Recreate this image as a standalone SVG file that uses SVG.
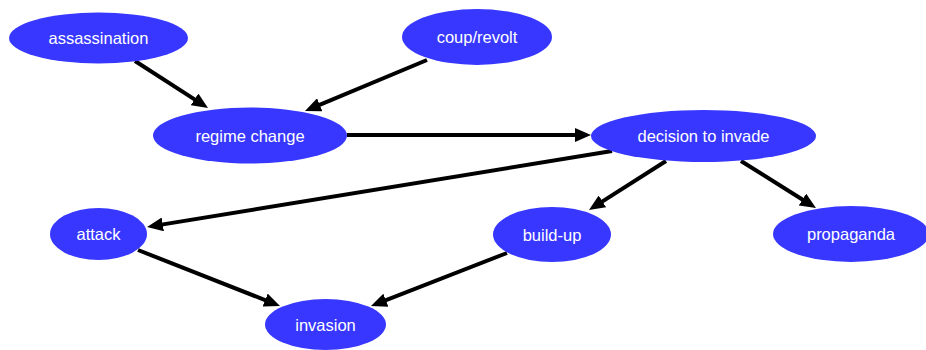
<svg xmlns="http://www.w3.org/2000/svg" width="926" height="350" viewBox="0 0 926 350">
<style>
.n ellipse{fill:#3737ff;stroke:none}
.n text{fill:#ffffff;font-family:"Liberation Sans",Arial,sans-serif;font-size:16.5px;text-anchor:middle;dominant-baseline:central}
.e line{stroke:#000;stroke-width:4;marker-end:url(#ah)}
</style>
<defs>
<marker id="ah" viewBox="0 0 16 14" markerWidth="16" markerHeight="14" markerUnits="userSpaceOnUse" refX="6" refY="7" orient="auto">
<path d="M0,0 L16,7 L0,14 z" fill="#000"/>
</marker>
</defs>
<rect width="926" height="350" fill="#fff"/>
<g id="edges" class="e">
<line x1="135" y1="61" x2="199.6" y2="102.6"/>
<line x1="427" y1="60" x2="314.2" y2="107.1"/>
<line x1="347" y1="135" x2="581" y2="135"/>
<line x1="612" y1="151" x2="156.9" y2="225.4"/>
<line x1="666" y1="161" x2="597.4" y2="204.6"/>
<line x1="741" y1="161" x2="807.5" y2="202.7"/>
<line x1="138" y1="250" x2="270.7" y2="302.3"/>
<line x1="507" y1="253" x2="380.3" y2="302.4"/>
</g>
<g id="assassination" class="n"><ellipse cx="98.5" cy="38" rx="89.5" ry="25.5"/><text x="98.5" y="38">assassination</text></g>
<g id="coup_revolt" class="n"><ellipse cx="477" cy="37" rx="75" ry="28"/><text x="477" y="37">coup/revolt</text></g>
<g id="regime_change" class="n"><ellipse cx="250" cy="135.5" rx="97" ry="28"/><text x="250" y="135.5">regime change</text></g>
<g id="decision_to_invade" class="n"><ellipse cx="703.5" cy="136" rx="112.5" ry="26"/><text x="703.5" y="136">decision to invade</text></g>
<g id="attack" class="n"><ellipse cx="98.5" cy="234" rx="48.5" ry="26"/><text x="98.5" y="234">attack</text></g>
<g id="build_up" class="n"><ellipse cx="552" cy="234.5" rx="59" ry="27.5"/><text x="552" y="234.5">build-up</text></g>
<g id="propaganda" class="n"><ellipse cx="851" cy="234" rx="78" ry="28"/><text x="851" y="234">propaganda</text></g>
<g id="invasion" class="n"><ellipse cx="325.5" cy="324.5" rx="60.5" ry="25.5"/><text x="325.5" y="324.5">invasion</text></g>
</svg>
